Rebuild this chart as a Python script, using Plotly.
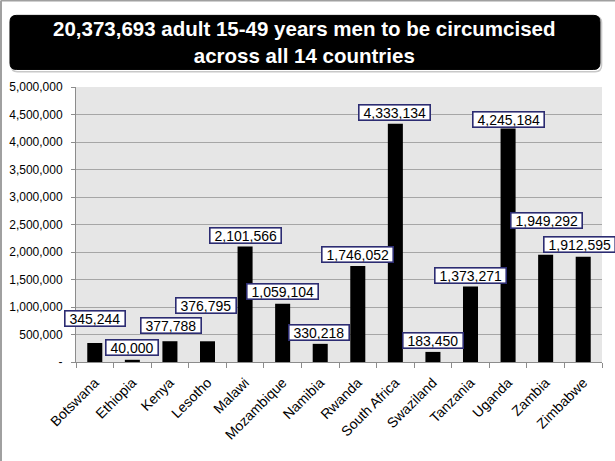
import plotly.graph_objects as go

countries = ["Botswana", "Ethiopia", "Kenya", "Lesotho", "Malawi", "Mozambique", "Namibia",
             "Rwanda", "South Africa", "Swaziland", "Tanzania", "Uganda", "Zambia", "Zimbabwe"]
men = [345244, 40000, 377788, 376795, 2101566, 1059104, 330218,
       1746052, 4333134, 183450, 1373271, 4245184, 1949292, 1912595]

y_ticks = [0, 500000, 1000000, 1500000, 2000000, 2500000, 3000000, 3500000, 4000000, 4500000, 5000000]
y_labels = ["-", "500,000", "1,000,000", "1,500,000", "2,000,000", "2,500,000", "3,000,000",
            "3,500,000", "4,000,000", "4,500,000", "5,000,000"]

title = "20,373,693 adult 15-49 years men to be circumcised<br>across all 14 countries"

# label offsets (pixels) from the bar top, as placed by hand in the original
lbl_dy = [25, 12, 16, 36, 11, 12, 11, 11, 11, 11, 11, 9, 34, 12]
lbl_dx = [0, 0, 1, -2, 0, 0, -1, 0, -1, 0, 0, 0, 1, -4]

FONT = "Arial, Liberation Sans, sans-serif"
LBL = 14

fig = go.Figure(go.Bar(x=countries, y=men, marker_color="black", marker_line_width=0))

for c, v, dy, dx in zip(countries, men, lbl_dy, lbl_dx):
    txt = f"{v:,}"
    n_dig = sum(ch.isdigit() for ch in txt)
    w = LBL * (0.556 * n_dig + 0.278 * (len(txt) - n_dig)) + 8
    fig.add_annotation(x=c, y=v, text=txt, showarrow=False, yanchor="middle",
                       yshift=dy, xshift=dx, bgcolor="white", bordercolor="#2c2c72",
                       borderwidth=1.6, borderpad=0, width=w, height=14,
                       font=dict(family=FONT, size=LBL, color="black"))

# title box with rounded corners (paper coords)
x0, x1, y0, y1 = -0.1255, 0.9962, 1.0638, 1.2605
rx, ry = 0.012, 0.023
def rounded(x0, x1, y0, y1):
    return (f"M{x0+rx},{y0} L{x1-rx},{y0} Q{x1},{y0} {x1},{y0+ry} L{x1},{y1-ry} "
            f"Q{x1},{y1} {x1-rx},{y1} L{x0+rx},{y1} Q{x0},{y1} {x0},{y1-ry} "
            f"L{x0},{y0+ry} Q{x0},{y0} {x0+rx},{y0} Z")

fig.add_shape(type="path", xref="paper", yref="paper",
              path=rounded(x0 + 0.002, x1 + 0.003, y0 - 0.008, y1 - 0.004),
              fillcolor="white", line=dict(color="#c8c8c8", width=1.5), layer="above")
fig.add_shape(type="path", xref="paper", yref="paper", path=rounded(x0, x1, y0, y1),
              fillcolor="black", line=dict(color="black", width=1), layer="above")
fig.add_annotation(xref="paper", yref="paper", x=(x0 + x1) / 2, y=(y0 + y1) / 2,
                   xanchor="center", yanchor="middle",
                   text=f"<b>{title}</b>", showarrow=False, align="center",
                   font=dict(family=FONT, size=20.5, color="white"))

# slide frame (left and top edges)
fig.add_shape(type="line", xref="paper", yref="paper", x0=-0.1426, x1=-0.1426, y0=-0.37, y1=1.315,
              line=dict(color="#a0a0a0", width=2))
fig.add_shape(type="line", xref="paper", yref="paper", x0=-0.1426, x1=1.03, y0=1.315, y1=1.315,
              line=dict(color="#a0a0a0", width=2))

fig.update_layout(
    width=615, height=461,
    margin=dict(l=76, r=13, t=87, b=99, autoexpand=False),
    paper_bgcolor="white", plot_bgcolor="#e6e6e6",
    bargap=0.6, showlegend=False,
    font=dict(family=FONT, color="black"),
)
fig.update_yaxes(range=[0, 5000000], tickvals=y_ticks, ticktext=y_labels,
                 tickfont=dict(size=12), ticks="outside", ticklen=4, tickcolor="#8c8c8c",
                 ticklabelstandoff=6,
                 showgrid=True, gridcolor="#a6a6a6", gridwidth=1, automargin=False,
                 showline=True, linecolor="#8c8c8c", linewidth=1, zeroline=False)
fig.update_xaxes(range=[-0.5, len(countries) - 0.5], tickangle=-45, tickfont=dict(size=14),
                 ticks="outside", ticklen=5,
                 tickson="boundaries", tickcolor="#8c8c8c", automargin=False,
                 ticklabelstandoff=6,
                 showline=True, linecolor="#8c8c8c", linewidth=1)

fig.write_html("out.html", config={"displayModeBar": False},
               post_script="document.body.style.margin='0px';")
